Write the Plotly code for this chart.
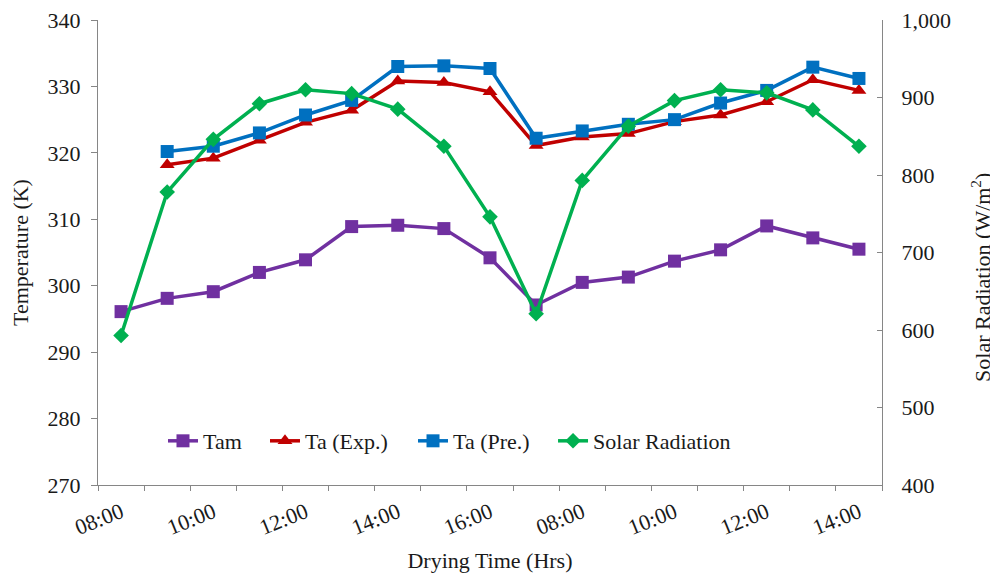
import plotly.graph_objects as go

hours = ["08:00", "09:00", "10:00", "11:00", "12:00", "13:00", "14:00", "15:00", "16:00", "17:00",
         "08:00", "09:00", "10:00", "11:00", "12:00", "13:00", "14:00"]
tam = [296.1, 298.1, 299.1, 302.0, 303.9, 308.9, 309.1, 308.6, 304.2, 297.1,
       300.5, 301.3, 303.7, 305.4, 309.0, 307.2, 305.5]
ta_exp = [None, 318.2, 319.2, 321.9, 324.6, 326.4, 330.8, 330.6, 329.2, 321.1,
          322.4, 322.9, 324.7, 325.7, 327.7, 331.0, 329.4]
ta_pre = [None, 320.2, 321.0, 323.0, 325.7, 327.9, 333.0, 333.1, 332.7, 322.2,
          323.3, 324.3, 325.0, 327.5, 329.4, 332.9, 331.2]
solar = [593, 778, 846, 892, 910, 905, 885, 837, 746, 621,
         793, 863, 896, 910, 906, 884, 837]

x = list(range(len(hours)))
font = "Liberation Serif, Times New Roman, serif"
fs = 22
txt = "#1a1a1a"

series = [
    ("Tam", tam, "#7030A0", "square", 13, "y", "legend"),
    ("Ta (Exp.)", ta_exp, "#C00000", "triangle-up", 13, "y", "legend2"),
    ("Ta (Pre.)", ta_pre, "#0070C0", "square", 13, "y", "legend3"),
    ("Solar Radiation", solar, "#00B050", "diamond", 12, "y2", "legend4"),
]
legend_x = [0.0829, 0.2130, 0.4018, 0.5804]

fig = go.Figure()
for name, vals, col, sym, size, yax, leg in series:
    fig.add_trace(go.Scatter(x=x, y=vals, name=name, mode="lines+markers", yaxis=yax, legend=leg,
                             line=dict(color=col, width=3.5),
                             marker=dict(symbol=sym, size=size, color=col)))

legend_common = dict(orientation="h", y=0.0946, xanchor="left", yanchor="middle",
                     font=dict(family=font, size=fs, color=txt), bgcolor="rgba(0,0,0,0)",
                     itemwidth=30)

axis_col = "#868686"
fig.update_layout(
    width=990, height=565,
    margin=dict(l=90, r=116, t=12, b=88),
    paper_bgcolor="white", plot_bgcolor="white",
    font=dict(family=font, size=fs, color=txt),
    showlegend=True,
    legend=dict(x=legend_x[0], **legend_common),
    legend2=dict(x=legend_x[1], **legend_common),
    legend3=dict(x=legend_x[2], **legend_common),
    legend4=dict(x=legend_x[3], **legend_common),
    xaxis=dict(range=[-0.5, len(hours) - 0.5], tickmode="array", automargin=False,
               tickvals=x[::2], ticktext=hours[::2], tickangle=-22, ticklabelstandoff=5,
               ticklabeloverflow="allow",
               ticks="", showgrid=False, zeroline=False,
               showline=True, linecolor=axis_col, linewidth=1,
               minor=dict(tickmode="linear", tick0=-0.5, dtick=1, ticks="outside",
                          ticklen=5, tickcolor=axis_col, showgrid=False),
               tickfont=dict(family=font, size=fs, color=txt),
               title=dict(text="Drying Time (Hrs)", font=dict(family=font, size=fs, color=txt), standoff=19)),
    yaxis=dict(range=[270, 340], dtick=10, ticks="outside", ticklen=6, tickcolor=axis_col,
               automargin=False, ticklabelstandoff=6, ticklabeloverflow="allow",
               showgrid=False, zeroline=False, showline=True, linecolor=axis_col,
               tickfont=dict(family=font, size=fs, color=txt),
               title=dict(text="Temperature (K)", font=dict(family=font, size=fs, color=txt), standoff=12)),
    yaxis2=dict(range=[400, 1000], dtick=100, overlaying="y", side="right",
                automargin=False, ticklabelstandoff=14, ticklabeloverflow="allow",
                ticks="inside", ticklen=5, tickcolor=axis_col, tickformat=",",
                showgrid=False, zeroline=False, showline=True, linecolor=axis_col,
                tickfont=dict(family=font, size=fs, color=txt)),
    annotations=[dict(text="Solar Radiation (W/m<sup>2</sup>)", textangle=-90,
                      xref="paper", yref="paper", x=1.126, y=0.447,
                      xanchor="center", yanchor="middle", showarrow=False,
                      font=dict(family=font, size=fs, color=txt))],
)

fig.write_html("out.html")
